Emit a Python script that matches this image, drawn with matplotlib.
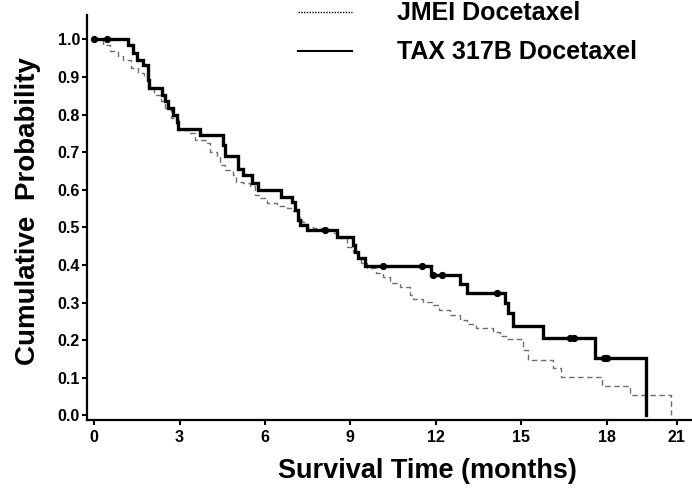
import matplotlib
matplotlib.use('Agg')
import numpy as np
import matplotlib.pyplot as plt
from matplotlib.lines import Line2D

plt.rcParams['font.family'] = ['Liberation Sans', 'DejaVu Sans']
plt.rcParams['font.weight'] = 'bold'

# ---- data ----
jmei_t = [0, 0.30, 0.55, 0.85, 1.00, 1.30, 1.55, 1.75, 1.90, 2.10, 2.35, 2.50, 2.70, 2.95,
          3.30, 3.55, 3.95, 4.07, 4.30, 4.42, 4.60, 4.89, 5.00, 5.24, 5.47, 5.65, 5.82,
          6.06, 6.41, 6.76, 6.99, 7.17, 7.29, 7.46, 7.70, 8.05, 8.40, 8.63, 8.87, 9.10,
          9.27, 9.39, 9.57, 9.90, 10.15, 10.40, 10.74, 11.08, 11.20, 11.55, 11.90, 12.10,
          12.50, 12.84, 13.10, 13.43, 14.00, 14.25, 14.50, 15.06, 15.24, 16.12, 16.41,
          17.85, 18.83, 20.27]
jmei_s = [1.0, 0.985, 0.968, 0.955, 0.945, 0.923, 0.910, 0.900, 0.874, 0.852, 0.835, 0.817,
          0.790, 0.760, 0.750, 0.733, 0.724, 0.702, 0.688, 0.666, 0.653, 0.640, 0.622, 0.617,
          0.609, 0.586, 0.578, 0.566, 0.557, 0.551, 0.545, 0.529, 0.515, 0.502, 0.498, 0.493,
          0.485, 0.471, 0.449, 0.436, 0.418, 0.405, 0.392, 0.380, 0.367, 0.352, 0.341, 0.320,
          0.309, 0.303, 0.294, 0.281, 0.267, 0.254, 0.243, 0.233, 0.223, 0.211, 0.203, 0.174,
          0.148, 0.125, 0.103, 0.078, 0.055, 0.0]

tax_t = [0, 1.20, 1.35, 1.52, 1.73, 1.91, 1.94, 2.37, 2.49, 2.61, 2.76, 2.90, 2.94, 3.72,
         4.54, 4.60, 5.06, 5.24, 5.53, 5.77, 6.58, 6.94, 7.05, 7.17, 7.23, 7.46, 8.52, 9.10,
         9.16, 9.27, 9.51, 11.85, 12.84, 13.10, 14.42, 14.54, 14.71, 15.76, 17.61, 19.39]
tax_s = [1.0, 0.985, 0.965, 0.945, 0.932, 0.892, 0.870, 0.852, 0.835, 0.817, 0.799, 0.781,
         0.762, 0.746, 0.719, 0.690, 0.655, 0.640, 0.617, 0.600, 0.582, 0.569, 0.547, 0.520,
         0.507, 0.493, 0.474, 0.453, 0.436, 0.418, 0.398, 0.374, 0.350, 0.325, 0.298, 0.272,
         0.237, 0.205, 0.152, 0.0]
tax_censored = [0.0, 0.45, 8.10, 10.15, 11.53, 11.90, 12.22, 14.15, 16.70, 16.85, 17.90, 18.00]

x_tick_pos = [0, 3, 6, 9, 12, 15, 18, 20.46]
x_tick_labels = ['0', '3', '6', '9', '12', '15', '18', '21']
y_ticks = [0.0, 0.1, 0.2, 0.3, 0.4, 0.5, 0.6, 0.7, 0.8, 0.9, 1.0]

labels = ['JMEI Docetaxel', 'TAX 317B Docetaxel']

# ---- figure ----
fig = plt.figure(figsize=(6.92, 4.91), dpi=100)
ax = fig.add_axes([87/692, 71/491, 1 - 87/692, (476 - 71)/491])

ax.step(jmei_t, jmei_s, where='post', color='#6e6e6e', lw=1.0, ls=(0, (4, 2.5)))
ax.step(tax_t, tax_s, where='post', color='black', lw=2.4, solid_joinstyle='miter')

idx = np.searchsorted(tax_t, tax_censored, side='right') - 1
cens_y = np.array(tax_s)[idx]
ax.plot(tax_censored, cens_y, 'o', color='black', ms=4.2, zorder=5)

ax.set_xlim(-0.25, 21.0)
ax.set_ylim(-0.012, 1.065)
ax.set_xticks(x_tick_pos)
ax.set_xticklabels(x_tick_labels)
ax.set_yticks(y_ticks)
ax.set_yticklabels([f'{v:.1f}' for v in y_ticks])

for s in ['top', 'right']:
    ax.spines[s].set_visible(False)
for s in ['left', 'bottom']:
    ax.spines[s].set_linewidth(1.6)

ax.tick_params(axis='both', direction='out', length=3.5, width=1.5, labelsize=11.5)
ax.tick_params(axis='x', pad=4)
ax.tick_params(axis='y', pad=1.5)

ax.set_xlabel('Survival Time (months)', fontsize=19.5, fontweight='bold')
ax.xaxis.set_label_coords(0.562, -0.095)
ax.set_ylabel('Cumulative  Probability', fontsize=20, fontweight='bold')
ax.yaxis.set_label_coords(-0.076, 0.516)

handles = [Line2D([], [], color='black', lw=1.0, ls=(0, (1, 1))),
           Line2D([], [], color='black', lw=1.5)]
leg = fig.legend(handles, labels, loc='upper left', bbox_to_anchor=(298/692, 0.997),
                 frameon=False, prop={'weight': 'bold', 'size': 18},
                 handlelength=2.15, handletextpad=1.8, labelspacing=0.6,
                 borderpad=0, borderaxespad=0)

fig.savefig('out.png', dpi=100)
